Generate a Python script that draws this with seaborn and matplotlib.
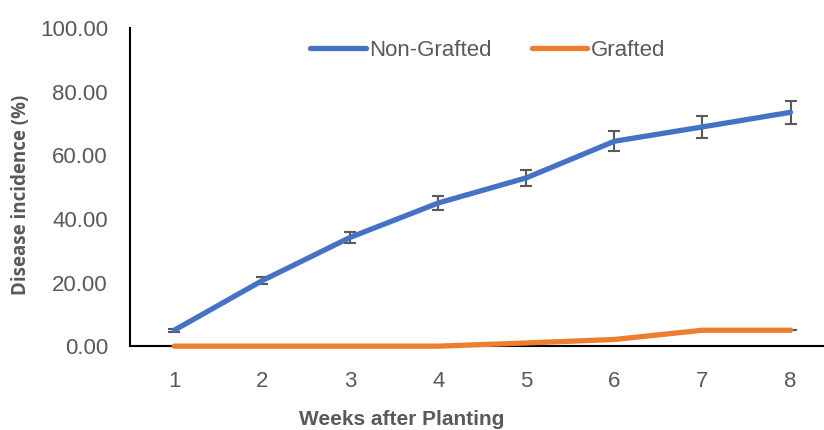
import numpy as np
import pandas as pd
import seaborn as sns
import matplotlib.pyplot as plt

# data
weeks        = [1, 2, 3, 4, 5, 6, 7, 8]
non_grafted  = [5.0, 20.6, 34.2, 45.0, 52.9, 64.4, 68.9, 73.5]
non_graf_err = [0.5, 1.1, 1.8, 2.3, 2.6, 3.2, 3.4, 3.6]
grafted      = [0.0, 0.0, 0.0, 0.0, 1.0, 2.1, 5.0, 5.0]
grafted_err  = [0.0, 0.0, 0.0, 0.0, 0.0, 0.0, 0.0, 0.0]
series_names = ["Non-Grafted", "Grafted"]
colors       = ["#4472C4", "#ED7D31"]

df = pd.DataFrame({
    "week": weeks * 2,
    "value": non_grafted + grafted,
    "series": [series_names[0]] * len(weeks) + [series_names[1]] * len(weeks),
})

sns.set_style("white")
plt.rcParams["font.family"] = ["Liberation Sans", "DejaVu Sans"]

fig = plt.figure(figsize=(8.24, 4.30), dpi=100)
ax = fig.add_axes([0.158, 0.195, 0.842, 0.74])

# error bars first, lines on top
for vals, errs in [(non_grafted, non_graf_err), (grafted, grafted_err)]:
    ax.errorbar(weeks, vals, yerr=errs, fmt="none", ecolor="#595959",
                elinewidth=1.5, capsize=4.5, capthick=1.5, zorder=2)

sns.lineplot(data=df, x="week", y="value", hue="series", palette=colors,
             hue_order=series_names, linewidth=3.8, ax=ax, zorder=3,
             legend=True)
for ln in ax.lines:
    ln.set_solid_capstyle("round")
    ln.set_clip_on(False)

ax.set_xlim(0.5, 8.38)
ax.set_ylim(0, 100)
ax.set_xticks(weeks)
ax.set_yticks(np.arange(0, 101, 20))
ax.set_yticklabels([f"{v:.2f}" for v in np.arange(0, 101, 20)])
ax.tick_params(axis="both", labelsize=16, labelcolor="#595959", length=0)
ax.tick_params(axis="y", pad=16)
ax.tick_params(axis="x", pad=18)

for s in ["top", "right"]:
    ax.spines[s].set_visible(False)
for s in ["left", "bottom"]:
    ax.spines[s].set_color("black")
    ax.spines[s].set_linewidth(1.5)

ax.set_xlabel("Weeks after Planting", fontsize=15, fontweight="bold",
              color="#595959", family=["Liberation Sans Narrow", "Liberation Sans"])
ax.xaxis.set_label_coords(0.392, -0.23)
ax.xaxis.label.set_va("center")
ax.set_ylabel("Disease incidence (%)", fontsize=13.5, fontweight="bold",
              color="#595959", family=["Open Sans", "DejaVu Sans"])
ax.yaxis.set_label_coords(-0.157, 0.475)
ax.yaxis.label.set_va("center")

leg = ax.legend(loc="center", bbox_to_anchor=(0.515, 0.93), ncol=2,
                frameon=False, fontsize=16, handlelength=2.5,
                columnspacing=1.8, handletextpad=0.15)
for t in leg.get_texts():
    t.set_color("#595959")
for h in leg.get_lines():
    h.set_linewidth(3.8)

fig.savefig("out.png", dpi=100)
